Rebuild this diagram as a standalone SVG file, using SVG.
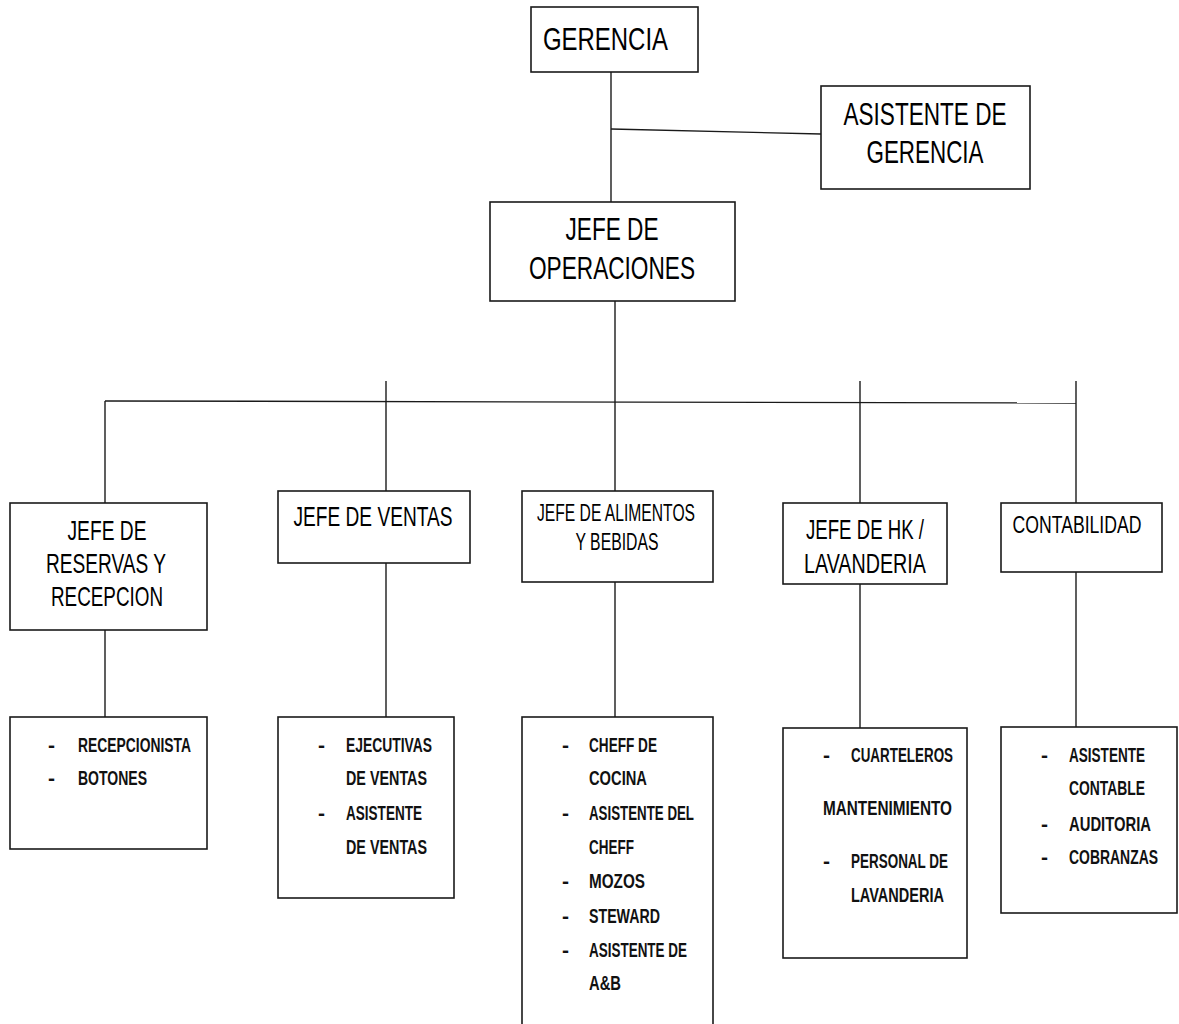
<svg xmlns="http://www.w3.org/2000/svg" width="1179" height="1024" viewBox="0 0 1179 1024">
<style>
.box{fill:#fff;stroke:#1a1a1a;stroke-width:1.6}
.ln{stroke:#1a1a1a;stroke-width:1.4;fill:none}
.t{font-family:"Liberation Sans Narrow","Liberation Sans",Arial,sans-serif;fill:#000}
.big{font-size:31px}
.mid{font-size:28px}
.sm{font-size:23px}
.it{font-family:"Liberation Sans Narrow","Liberation Sans",Arial,sans-serif;font-size:21px;font-weight:bold;fill:#111}
</style>
<rect width="1179" height="1024" fill="#fff"/>
<g id="connectors">
<line class="ln" x1="611" y1="72" x2="611" y2="202"/>
<line class="ln" x1="611" y1="129" x2="821" y2="134"/>
<line class="ln" x1="615" y1="301" x2="615" y2="491"/>
<line class="ln" x1="105" y1="401" x2="1076" y2="403"/>
<line class="ln" x1="105" y1="401" x2="105" y2="503"/>
<line class="ln" x1="386" y1="381" x2="386" y2="491"/>
<line class="ln" x1="860" y1="381" x2="860" y2="503"/>
<line class="ln" x1="1076" y1="381" x2="1076" y2="503"/>
<line class="ln" x1="105" y1="630" x2="105" y2="717"/>
<line class="ln" x1="386" y1="563" x2="386" y2="717"/>
<line class="ln" x1="615" y1="582" x2="615" y2="717"/>
<line class="ln" x1="860" y1="584" x2="860" y2="728"/>
<line class="ln" x1="1076" y1="572" x2="1076" y2="727"/>
</g>
<g id="gerencia">
<rect class="box" x="531" y="7" width="167" height="65"/>
<text class="t big" x="543" y="50" textLength="125" lengthAdjust="spacingAndGlyphs">GERENCIA</text>
</g>
<g id="asistente-gerencia">
<rect class="box" x="821" y="86" width="209" height="103"/>
<text class="t big" x="925" y="125" text-anchor="middle" textLength="163" lengthAdjust="spacingAndGlyphs">ASISTENTE DE</text>
<text class="t big" x="925" y="163" text-anchor="middle" textLength="117" lengthAdjust="spacingAndGlyphs">GERENCIA</text>
</g>
<g id="jefe-operaciones">
<rect class="box" x="490" y="202" width="245" height="99"/>
<text class="t big" x="612" y="240" text-anchor="middle" textLength="93" lengthAdjust="spacingAndGlyphs">JEFE DE</text>
<text class="t big" x="612" y="279" text-anchor="middle" textLength="166" lengthAdjust="spacingAndGlyphs">OPERACIONES</text>
</g>
<g id="jefe-reservas">
<rect class="box" x="10" y="503" width="197" height="127"/>
<text class="t mid" x="107" y="540" text-anchor="middle" textLength="79" lengthAdjust="spacingAndGlyphs">JEFE DE</text>
<text class="t mid" x="106" y="573" text-anchor="middle" textLength="120" lengthAdjust="spacingAndGlyphs">RESERVAS Y</text>
<text class="t mid" x="107" y="606" text-anchor="middle" textLength="112" lengthAdjust="spacingAndGlyphs">RECEPCION</text>
</g>
<g id="jefe-ventas">
<rect class="box" x="278" y="491" width="192" height="72"/>
<text class="t mid" x="373" y="526" text-anchor="middle" textLength="159" lengthAdjust="spacingAndGlyphs">JEFE DE VENTAS</text>
</g>
<g id="jefe-alimentos">
<rect class="box" x="522" y="491" width="191" height="91"/>
<text class="t sm" x="616" y="521" text-anchor="middle" textLength="158" lengthAdjust="spacingAndGlyphs">JEFE DE ALIMENTOS</text>
<text class="t sm" x="617" y="550" text-anchor="middle" textLength="83" lengthAdjust="spacingAndGlyphs">Y BEBIDAS</text>
</g>
<g id="jefe-hk">
<rect class="box" x="783" y="503" width="164" height="81"/>
<text class="t mid" x="865" y="539" text-anchor="middle" textLength="118" lengthAdjust="spacingAndGlyphs">JEFE DE HK /</text>
<text class="t mid" x="865" y="573" text-anchor="middle" textLength="122" lengthAdjust="spacingAndGlyphs">LAVANDERIA</text>
</g>
<g id="contabilidad">
<rect class="box" x="1001" y="503" width="161" height="69"/>
<text class="t sm" x="1077" y="533" text-anchor="middle" textLength="129" lengthAdjust="spacingAndGlyphs">CONTABILIDAD</text>
</g>
<g id="sub-reservas">
<rect class="box" x="10" y="717" width="197" height="132"/>
<text class="it" x="48" y="752">-</text>
<text class="it" x="78" y="752" textLength="113" lengthAdjust="spacingAndGlyphs">RECEPCIONISTA</text>
<text class="it" x="48" y="785">-</text>
<text class="it" x="78" y="785" textLength="69" lengthAdjust="spacingAndGlyphs">BOTONES</text>
</g>
<g id="sub-ventas">
<rect class="box" x="278" y="717" width="176" height="181"/>
<text class="it" x="318" y="752">-</text>
<text class="it" x="346" y="752" textLength="86" lengthAdjust="spacingAndGlyphs">EJECUTIVAS</text>
<text class="it" x="346" y="785" textLength="81" lengthAdjust="spacingAndGlyphs">DE VENTAS</text>
<text class="it" x="318" y="820">-</text>
<text class="it" x="346" y="820" textLength="76" lengthAdjust="spacingAndGlyphs">ASISTENTE</text>
<text class="it" x="346" y="854" textLength="81" lengthAdjust="spacingAndGlyphs">DE VENTAS</text>
</g>
<g id="sub-alimentos">
<rect class="box" x="522" y="717" width="191" height="320"/>
<text class="it" x="562" y="752">-</text>
<text class="it" x="589" y="752" textLength="68" lengthAdjust="spacingAndGlyphs">CHEFF DE</text>
<text class="it" x="589" y="785" textLength="58" lengthAdjust="spacingAndGlyphs">COCINA</text>
<text class="it" x="562" y="820">-</text>
<text class="it" x="589" y="820" textLength="105" lengthAdjust="spacingAndGlyphs">ASISTENTE DEL</text>
<text class="it" x="589" y="854" textLength="45" lengthAdjust="spacingAndGlyphs">CHEFF</text>
<text class="it" x="562" y="888">-</text>
<text class="it" x="589" y="888" textLength="56" lengthAdjust="spacingAndGlyphs">MOZOS</text>
<text class="it" x="562" y="923">-</text>
<text class="it" x="589" y="923" textLength="71" lengthAdjust="spacingAndGlyphs">STEWARD</text>
<text class="it" x="562" y="957">-</text>
<text class="it" x="589" y="957" textLength="98" lengthAdjust="spacingAndGlyphs">ASISTENTE DE</text>
<text class="it" x="589" y="990" textLength="32" lengthAdjust="spacingAndGlyphs">A&amp;B</text>
</g>
<g id="sub-hk">
<rect class="box" x="783" y="728" width="184" height="230"/>
<text class="it" x="823" y="762">-</text>
<text class="it" x="851" y="762" textLength="102" lengthAdjust="spacingAndGlyphs">CUARTELEROS</text>
<text class="it" x="823" y="815" textLength="129" lengthAdjust="spacingAndGlyphs">MANTENIMIENTO</text>
<text class="it" x="823" y="868">-</text>
<text class="it" x="851" y="868" textLength="97" lengthAdjust="spacingAndGlyphs">PERSONAL DE</text>
<text class="it" x="851" y="902" textLength="93" lengthAdjust="spacingAndGlyphs">LAVANDERIA</text>
</g>
<g id="sub-contabilidad">
<rect class="box" x="1001" y="727" width="176" height="186"/>
<text class="it" x="1041" y="762">-</text>
<text class="it" x="1069" y="762" textLength="76" lengthAdjust="spacingAndGlyphs">ASISTENTE</text>
<text class="it" x="1069" y="795" textLength="76" lengthAdjust="spacingAndGlyphs">CONTABLE</text>
<text class="it" x="1041" y="831">-</text>
<text class="it" x="1069" y="831" textLength="82" lengthAdjust="spacingAndGlyphs">AUDITORIA</text>
<text class="it" x="1041" y="864">-</text>
<text class="it" x="1069" y="864" textLength="89" lengthAdjust="spacingAndGlyphs">COBRANZAS</text>
</g>
</svg>
